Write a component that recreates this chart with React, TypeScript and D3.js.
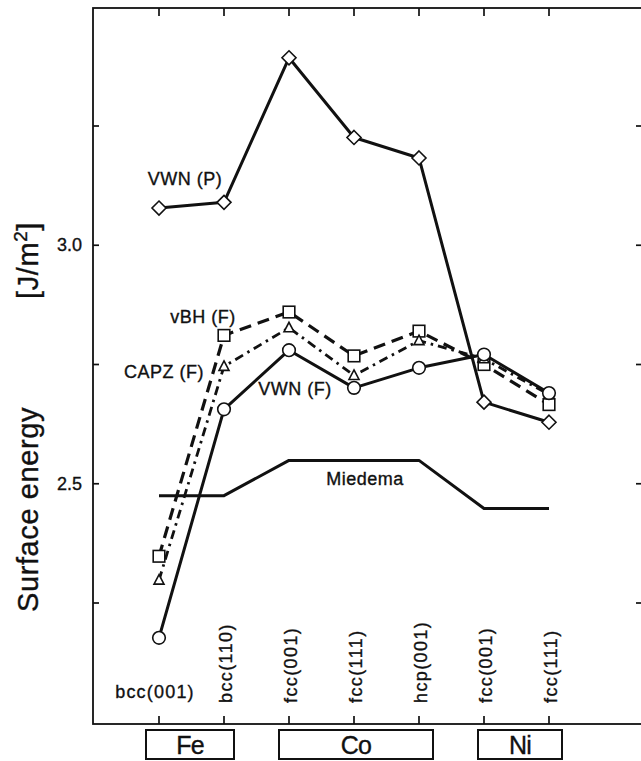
import * as d3 from "d3";

const WIDTH = 641;
const HEIGHT = 761;
const FRAME = { left: 93, top: 8, right: 646, bottom: 724 };
const FONT = "'Liberation Sans', Arial, Helvetica, sans-serif";

const categories = [
  "bcc(001)",
  "bcc(110)",
  "fcc(001)",
  "fcc(111)",
  "hcp(001)",
  "fcc(001) ",
  "fcc(111) ",
];

const vwnP = [3.078, 3.09, 3.393, 3.226, 3.183, 2.671, 2.629];
const vbhF = [2.348, 2.811, 2.86, 2.768, 2.82, 2.75, 2.666];
const capzF = [2.298, 2.746, 2.827, 2.727, 2.8, 2.762, 2.687];
const vwnF = [2.177, 2.656, 2.78, 2.701, 2.743, 2.771, 2.69];
const miedema = [2.475, 2.475, 2.549, 2.549, 2.549, 2.448, 2.448];

const yTicks = [3.25, 3.0, 2.75, 2.5, 2.25];
const yTickLabels = ["", "3.0", "", "2.5", ""];

const elements = [
  { name: "Fe", first: 0, last: 1, padL: 13, padR: 10 },
  { name: "Co", first: 2, last: 4, padL: 10, padR: 14 },
  { name: "Ni", first: 5, last: 6, padL: 6, padR: 13 },
];

const x = d3
  .scalePoint<string>()
  .domain(categories)
  .range([159, 549]);

const y = d3.scaleLinear().domain([2.25, 3.25]).range([603, 126]);

type Marker = "diamond" | "square" | "triangle" | "circle" | "none";

const series: {
  label: string;
  values: number[];
  marker: Marker;
  dash?: string;
  width: number;
  lx: number;
  ly: number;
}[] = [
  { label: "Miedema", values: miedema, marker: "none", width: 3, lx: 365, ly: 485 },
  { label: "VWN (P)", values: vwnP, marker: "diamond", width: 3, lx: 185, ly: 185 },
  { label: "vBH (F)", values: vbhF, marker: "square", dash: "12,7", width: 3.2, lx: 203, ly: 323 },
  { label: "CAPZ (F)", values: capzF, marker: "triangle", dash: "9,5,2.5,5", width: 2.8, lx: 164, ly: 378 },
  { label: "VWN (F)", values: vwnF, marker: "circle", width: 3, lx: 295, ly: 395 },
];

function MarkerShape({ type, cx, cy }: { type: Marker; cx: number; cy: number }) {
  const common = { fill: "#fff", stroke: "#111", strokeWidth: 1.6 };
  if (type === "circle") return <circle cx={cx} cy={cy} r={6.3} {...common} />;
  if (type === "square") return <rect x={cx - 5.8} y={cy - 5.8} width={11.6} height={11.6} {...common} />;
  if (type === "diamond")
    return <path d={`M${cx},${cy - 7}L${cx + 7},${cy}L${cx},${cy + 7}L${cx - 7},${cy}Z`} {...common} />;
  if (type === "triangle")
    return <path d={`M${cx},${cy - 5.5}L${cx + 5},${cy + 4}L${cx - 5},${cy + 4}Z`} {...common} />;
  return null;
}

const textStyle = { fill: "#111", stroke: "#111", strokeWidth: 0.35 };

export default function App() {
  const line = d3
    .line<number>()
    .x((_, i) => x(categories[i]) ?? 0)
    .y((v) => y(v));

  return (
    <svg
      width={WIDTH}
      height={HEIGHT}
      viewBox={`0 0 ${WIDTH} ${HEIGHT}`}
      style={{ position: "absolute", left: 0, top: 0, background: "#fff" }}
      fontFamily={FONT}
    >
      <rect width={WIDTH} height={HEIGHT} fill="#fff" />
      {/* frame */}
      <rect
        x={FRAME.left}
        y={FRAME.top}
        width={FRAME.right - FRAME.left}
        height={FRAME.bottom - FRAME.top}
        fill="none"
        stroke="#111"
        strokeWidth={1.8}
      />
      {/* category ticks, top and bottom, pointing inward */}
      {categories.map((c) => (
        <g key={c} stroke="#111" strokeWidth={1.7}>
          <line x1={x(c)} x2={x(c)} y1={FRAME.top} y2={FRAME.top + 8} />
          <line x1={x(c)} x2={x(c)} y1={FRAME.bottom} y2={FRAME.bottom - 8} />
        </g>
      ))}
      {/* y ticks, left and right */}
      {yTicks.map((t, i) => (
        <g key={t}>
          <line x1={FRAME.left} x2={FRAME.left + 6} y1={y(t)} y2={y(t)} stroke="#111" strokeWidth={1.7} />
          <line x1={WIDTH - 5} x2={WIDTH} y1={y(t)} y2={y(t)} stroke="#111" strokeWidth={1.7} />
          {yTickLabels[i] && (
            <text x={82} y={y(t) + 6} textAnchor="end" fontSize={18} {...textStyle}>
              {yTickLabels[i]}
            </text>
          )}
        </g>
      ))}
      {/* y label */}
      <text transform={`translate(38,612) rotate(-90)`} textAnchor="start" fontSize={29} {...textStyle} letterSpacing={0.6}>
        Surface energy
      </text>
      <text transform={`translate(38,222) rotate(-90)`} textAnchor="end" fontSize={29} {...textStyle} letterSpacing={0.6}>
        [J/m<tspan dy={-11} fontSize={19}>2</tspan>
        <tspan dy={11}>]</tspan>
      </text>

      {/* series lines */}
      {series.map((s) => (
        <path
          key={s.label}
          d={line(s.values) ?? ""}
          fill="none"
          stroke="#111"
          strokeWidth={s.width}
          strokeDasharray={s.dash}
          strokeLinejoin="round"
        />
      ))}
      {/* markers */}
      {series.map((s) =>
        s.values.map((v, i) => (
          <MarkerShape key={s.label + i} type={s.marker} cx={x(categories[i]) ?? 0} cy={y(v)} />
        ))
      )}
      {/* series labels */}
      {series.map((s) => (
        <text key={s.label + "-lbl"} x={s.lx} y={s.ly} textAnchor="middle" fontSize={18} letterSpacing={0.5} {...textStyle}>
          {s.label}
        </text>
      ))}

      {/* category labels */}
      {categories.map((c, i) =>
        i === 0 ? (
          <text key={c + "-t"} x={(x(c) ?? 0) - 4} y={698} textAnchor="middle" fontSize={18} letterSpacing={1.2} {...textStyle}>
            {c.trim()}
          </text>
        ) : (
          <text
            key={c + "-t"}
            transform={`translate(${(x(c) ?? 0) + 8},703) rotate(-90)`}
            textAnchor="start"
            fontSize={18}
            letterSpacing={1.4}
            {...textStyle}
          >
            {c.trim()}
          </text>
        )
      )}

      {/* element boxes */}
      {elements.map((e) => {
        const x0 = (x(categories[e.first]) ?? 0) - e.padL;
        const x1 = (x(categories[e.last]) ?? 0) + e.padR;
        return (
          <g key={e.name}>
            <rect x={x0} y={730} width={x1 - x0} height={29} fill="#fff" stroke="#111" strokeWidth={2} />
            <text x={(x0 + x1) / 2} y={754} textAnchor="middle" fontSize={25} letterSpacing={-0.8} {...textStyle}>
              {e.name}
            </text>
          </g>
        );
      })}
    </svg>
  );
}
